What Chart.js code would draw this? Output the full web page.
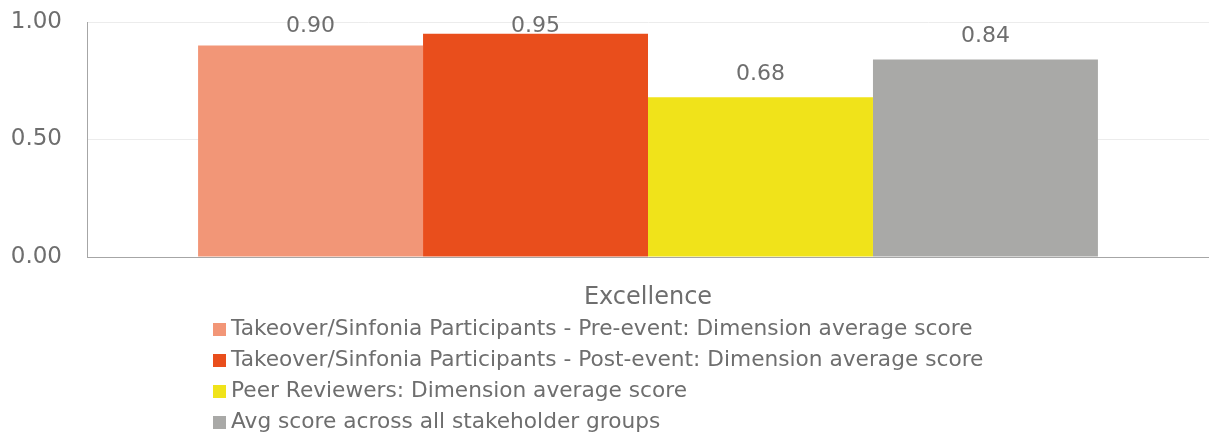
<!DOCTYPE html>
<html>
<head>
<meta charset="utf-8">
<script src="https://cdn.jsdelivr.net/npm/chart.js@4/dist/chart.umd.min.js"></script>
<style>
  html, body { margin: 0; padding: 0; background: #fff; }
  #wrap { width: 1209px; height: 434px; }
</style>
</head>
<body>
<div id="wrap"><canvas id="myChart" width="1209" height="434"></canvas></div>
<script>
var categories = ['Excellence'];
var seriesNames = [
  'Takeover/Sinfonia Participants - Pre-event: Dimension average score',
  'Takeover/Sinfonia Participants - Post-event: Dimension average score',
  'Peer Reviewers: Dimension average score',
  'Avg score across all stakeholder groups'
];
var preEvent = [0.90];
var postEvent = [0.95];
var peerReviewers = [0.68];
var avgAllGroups = [0.84];
var yTicks = [0, 0.5, 1];

var colors = ['#F29677', '#E94E1C', '#F0E31A', '#A9A9A7'];
var textColor = '#6e6e6e';
var fontFamily = "'DejaVu Sans', sans-serif";

var allSeries = [preEvent, postEvent, peerReviewers, avgAllGroups];
var datasets = [];
for (var i = 0; i < allSeries.length; i++) {
  datasets.push({
    label: seriesNames[i],
    data: allSeries[i],
    backgroundColor: colors[i],
    borderWidth: 0,
    categoryPercentage: 0.802,
    barPercentage: 1.0
  });
}

// value labels above each bar
var valueLabels = {
  id: 'valueLabels',
  afterDatasetsDraw: function(chart) {
    var ctx = chart.ctx;
    ctx.save();
    ctx.font = '22px ' + fontFamily;
    ctx.fillStyle = textColor;
    ctx.textAlign = 'center';
    ctx.textBaseline = 'middle';
    chart.data.datasets.forEach(function(ds, i) {
      chart.getDatasetMeta(i).data.forEach(function(bar, j) {
        var y = Math.max(bar.y - 23, 26);
        ctx.fillText(ds.data[j].toFixed(2), bar.x, y);
      });
    });
    ctx.restore();
  }
};

// one legend entry per row, left aligned under the plot
var rowLegend = {
  id: 'rowLegend',
  afterDraw: function(chart) {
    var ctx = chart.ctx;
    ctx.save();
    ctx.font = '21.7px ' + fontFamily;
    ctx.textBaseline = 'middle';
    chart.data.datasets.forEach(function(ds, i) {
      var y = 329 + i * 31;
      ctx.fillStyle = ds.backgroundColor;
      ctx.fillRect(213, y - 6, 13, 13);
      ctx.fillStyle = textColor;
      ctx.fillText(ds.label, 231, y);
    });
    ctx.restore();
  }
};

var ctx = document.getElementById('myChart').getContext('2d');
var chart = new Chart(ctx, {
  type: 'bar',
  data: { labels: categories, datasets: datasets },
  plugins: [valueLabels, rowLegend],
  options: {
    responsive: false,
    animation: false,
    layout: { padding: { left: 0, right: 0, top: 22, bottom: 117 } },
    plugins: {
      legend: { display: false },
      tooltip: { enabled: false }
    },
    scales: {
      x: {
        grid: { display: false },
        border: { display: true, color: '#a6a6a6', width: 1 },
        ticks: { color: textColor, font: { family: fontFamily, size: 24 }, padding: 18 },
        afterFit: function(scale) { scale.height = 60; }
      },
      y: {
        min: 0,
        max: 1,
        afterBuildTicks: function(scale) {
          scale.ticks = yTicks.map(function(v) { return { value: v }; });
        },
        grid: {
          drawTicks: false,
          color: function(c) { return c.tick && c.tick.value === 0 ? '#a6a6a6' : '#ececec'; }
        },
        border: { display: true, color: '#a6a6a6', width: 1 },
        ticks: {
          color: textColor,
          font: { family: fontFamily, size: 23 },
          padding: 25,
          callback: function(v) { return Number(v).toFixed(2); }
        },
        afterFit: function(scale) {
          scale.width = 87;
          scale.paddingTop = 0;
          scale.paddingBottom = 0;
        }
      }
    }
  }
});
</script>
</body>
</html>
